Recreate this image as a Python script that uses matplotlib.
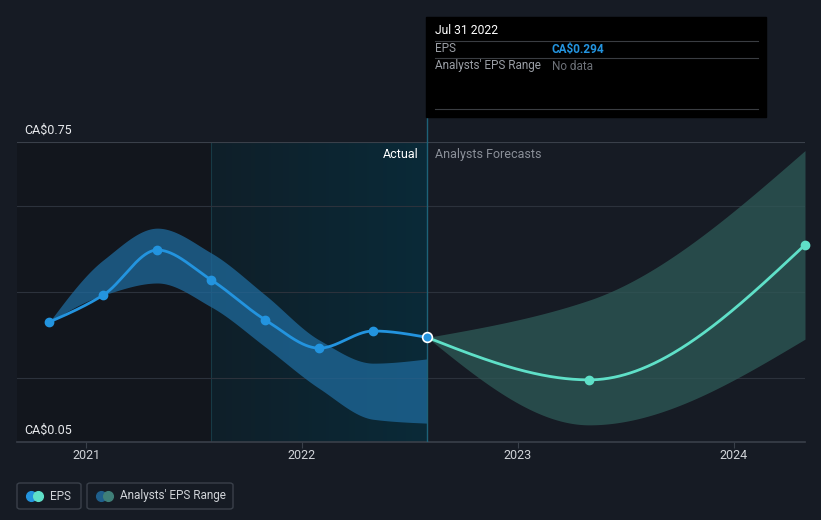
import matplotlib
matplotlib.use('Agg')
import matplotlib.pyplot as plt
import numpy as np
from matplotlib.patches import FancyBboxPatch, Rectangle
from matplotlib.lines import Line2D

plt.rcParams['font.family'] = ['Roboto', 'DejaVu Sans']

# actual EPS (decimal year, CA$)
past_x = [2020.83, 2021.08, 2021.33, 2021.58, 2021.83, 2022.08, 2022.33, 2022.58]
past_eps = [0.33, 0.393, 0.498, 0.428, 0.335, 0.269, 0.309, 0.294]
past_hi = [0.33, 0.475, 0.549, 0.491, 0.393, 0.288, 0.234, 0.244]
past_lo = [0.33, 0.393, 0.421, 0.365, 0.272, 0.175, 0.103, 0.094]

# analyst forecasts
fc_x = [2022.58, 2023.33, 2024.33]
fc_eps = [0.294, 0.195, 0.51]
fc_hi = [0.294, 0.381, 0.73]
fc_lo = [0.294, 0.09, 0.29]

years = [2021, 2022, 2023, 2024]
y_labels = ['CA$0.05', 'CA$0.75']

BG = '#161b24'


def monotone(x, y, n=200):
    """Fritsch-Carlson monotone cubic, like d3 curveMonotoneX."""
    x = np.asarray(x, float)
    y = np.asarray(y, float)
    h = np.diff(x)
    d = np.diff(y) / h
    m = np.zeros_like(y)
    m[0], m[-1] = d[0], d[-1]
    for i in range(1, len(y) - 1):
        if d[i - 1] * d[i] <= 0:
            m[i] = 0
        else:
            w1 = 2 * h[i] + h[i - 1]
            w2 = h[i] + 2 * h[i - 1]
            m[i] = (w1 + w2) / (w1 / d[i - 1] + w2 / d[i])
    if len(y) > 2:
        m[0] = (3 * d[0] - m[1]) / 2 if d[0] * (3 * d[0] - m[1]) > 0 else 0
        m[-1] = (3 * d[-1] - m[-2]) / 2 if d[-1] * (3 * d[-1] - m[-2]) > 0 else 0
    xs, ys = [], []
    for i in range(len(h)):
        t = np.linspace(0, 1, n)
        h00 = 2 * t**3 - 3 * t**2 + 1
        h10 = t**3 - 2 * t**2 + t
        h01 = -2 * t**3 + 3 * t**2
        h11 = t**3 - t**2
        xs.append(x[i] + t * h[i])
        ys.append(h00 * y[i] + h10 * h[i] * m[i] + h01 * y[i + 1] + h11 * h[i] * m[i + 1])
    return np.concatenate(xs), np.concatenate(ys)


fig = plt.figure(figsize=(8.21, 5.20), dpi=100, facecolor=BG)
ax = fig.add_axes([17 / 821, 78 / 520, 788 / 821, 300 / 520])
ax.set_facecolor(BG)
x0, x1 = 2020.68, 2024.33
ax.set_xlim(x0, x1)
ax.set_ylim(0.05, 0.75)

# shaded past region
ax.axvspan(x0, 2021.58, color='#12161d', zorder=0, lw=0)
grad = np.linspace(0, 1, 100).reshape(1, -1)
cmap = matplotlib.colors.LinearSegmentedColormap.from_list('g', ['#0f1f29', '#0a2a38'])
ax.imshow(grad, extent=[2021.58, past_x[-1], 0.05, 0.75], aspect='auto', cmap=cmap, zorder=0.5)
ax.axvline(2021.58, color='#173a45', lw=0.8, zorder=0.6)

# grid
for g in [0.2, 0.4, 0.6]:
    ax.axhline(g, color='#2c323c', lw=0.8, zorder=1)
ax.axhline(0.75, color='#3a404a', lw=0.8, zorder=1)

# bands
bx, bhi = monotone(past_x, past_hi)
_, blo = monotone(past_x, past_lo)
ax.fill_between(bx, blo, bhi, color='#1f6a9c', alpha=0.75, lw=0, zorder=2)
fx, fhi = monotone(fc_x, fc_hi)
_, flo = monotone(fc_x, fc_lo)
ax.fill_between(fx, flo, fhi, color='#2e5a57', alpha=0.75, lw=0, zorder=2)

# lines
px, py = monotone(past_x, past_eps)
ax.plot(px, py, color='#2394df', lw=2, zorder=3)
ax.plot(past_x[:-1], past_eps[:-1], 'o', color='#2394df', ms=6, zorder=4)
fxx, fyy = monotone(fc_x, fc_eps)
ax.plot(fxx, fyy, color='#5fe0c8', lw=2, zorder=3)
ax.plot(fc_x[1:], fc_eps[1:], 'o', color='#5fe0c8', ms=6, zorder=4, clip_on=False)
ax.plot(past_x[-1], past_eps[-1], 'o', color='#2394df', mec='white', mew=1.2, ms=7, zorder=5)

ax.axvline(past_x[-1], color='#1d6278', lw=1, zorder=2.5)

for s in ax.spines.values():
    s.set_visible(False)
ax.axhline(0.05, color='#3a404a', lw=1.2, zorder=1, clip_on=False)
ax.set_yticks([])
ax.set_xticks(years)
ax.set_xticklabels([str(y) for y in years], color='#d0d3d8', fontsize=9)
ax.tick_params(axis='x', length=4, color='#3a404a', pad=1)

ax.text(2022.58 - 0.04, 0.721, 'Actual', color='white', fontsize=9, ha='right', va='center')
ax.text(2022.58 + 0.035, 0.721, 'Analysts Forecasts', color='#8a8f98', fontsize=9, ha='left', va='center')

fig.text(24 / 821, 1 - 130 / 520, y_labels[1], color='#e8eaed', fontsize=9, va='center')
fig.text(24 / 821, 1 - 430 / 520, y_labels[0], color='#e8eaed', fontsize=9, va='center')

# vertical line up to tooltip
fig.add_artist(Line2D([426.5 / 821, 426.5 / 821], [1 - 142 / 520, 1 - 117 / 520], color='#1d6278', lw=1))

# tooltip
fig.add_artist(Rectangle((426 / 821, 1 - 117 / 520), 340 / 821, 100 / 520, color='black', zorder=10))
fig.text(435 / 821, 1 - 31 / 520, 'Jul 31 2022', color='white', fontsize=8.7, va='center', zorder=11)
for yy in [41, 58, 109]:
    fig.add_artist(Line2D([435 / 821, 758 / 821], [1 - yy / 520] * 2, color='#3a3d42', lw=0.8, zorder=11))
fig.text(435 / 821, 1 - 49 / 520, 'EPS', color='#9a9ea5', fontsize=8.5, va='center', zorder=11)
fig.text(552 / 821, 1 - 49 / 520, 'CA$0.294', color='#2394df', fontsize=8.5, va='center',
         fontweight='bold', zorder=11)
fig.text(435 / 821, 1 - 66 / 520, "Analysts' EPS Range", color='#9a9ea5', fontsize=8.5, va='center', zorder=11)
fig.text(552 / 821, 1 - 66 / 520, 'No data', color='#6d7178', fontsize=8.5, va='center', zorder=11)

# legend
for (lx, w, label, c1, c2) in [(17, 64, 'EPS', '#2394df', '#5fe0c8'),
                               (87, 146, "Analysts' EPS Range", '#1f5f8c', '#3f7f78')]:
    fig.add_artist(FancyBboxPatch((lx / 821, 1 - 509 / 520), w / 821, 26 / 520,
                                  boxstyle='round,pad=0,rounding_size=0.004',
                                  fc='none', ec='#3a404a', lw=1))
    fig.add_artist(Line2D([(lx + 14) / 821], [1 - 496 / 520], marker='o', color=c1, ms=7, ls=''))
    fig.add_artist(Line2D([(lx + 21) / 821], [1 - 496 / 520], marker='o', color=c2, ms=7, ls=''))
    fig.text((lx + 33) / 821, 1 - 496 / 520, label, color='#d0d3d8', fontsize=8.5, va='center')

fig.savefig('out.png', dpi=100, facecolor=BG)
